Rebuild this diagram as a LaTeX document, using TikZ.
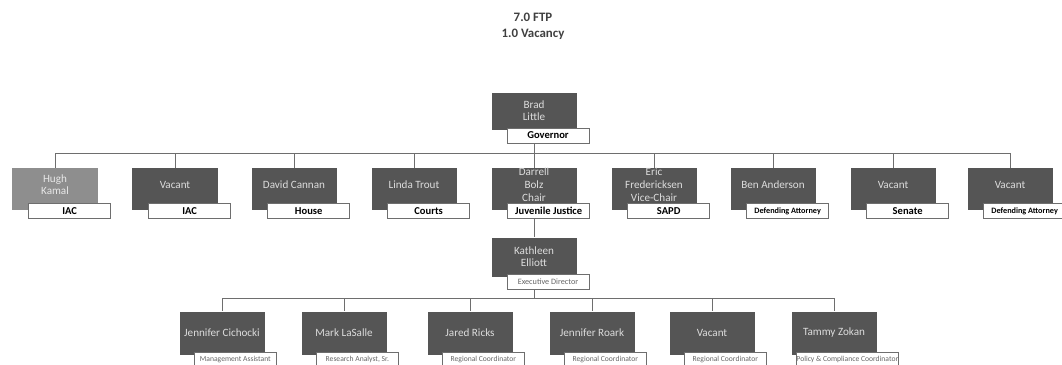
\documentclass[tikz,border=0pt]{standalone}
\usepackage{fontspec}
\setmainfont{Carlito}
\usetikzlibrary{positioning}
\definecolor{boxgray}{HTML}{555555}
\definecolor{palegray}{HTML}{8E8E8E}
\definecolor{linegray}{HTML}{6E6E6E}
\definecolor{namegray}{HTML}{DDDDDD}

\tikzset{
  heading/.style={font=\bfseries\fontsize{11}{12}\selectfont, text=black!75, inner sep=1pt},
  member/.style={fill=boxgray, minimum width=2.55cm, minimum height=1.26cm, text=namegray,
    font=\fontsize{9.5}{10.5}\selectfont, align=center, inner sep=1pt},
  whotext/.style={text=namegray, font=\fontsize{9.5}{11}\selectfont, align=center, inner sep=0pt},
  role/.style={fill=white, draw=linegray, minimum width=2.46cm, minimum height=0.45cm,
    font=\bfseries\fontsize{9}{10}\selectfont, inner sep=0pt},
  link/.style={draw=linegray, line width=0.7pt}
}

\begin{document}
\begin{tikzpicture}[x=0.03cm, y=-0.03cm]
  \useasboundingbox (0,0) rectangle (1062,365);

  % heading
  \node[heading] (ftp) at (533,17) {7.0 FTP};
  \node[heading, below=1.4mm of ftp] (vacancy) {1.0 Vacancy};

  % governor
  \node[member, minimum height=1.11cm] (gov) at (534,111) {Brad\\Little};
  \node[role, below=-0.06cm of gov, xshift=0.42cm] (govrole) {Governor};

  % commission members
  \coordinate (bus1) at (534,153);
  \node[member, fill=palegray] (m1) at (55,189) {};
  \node[whotext, text=white!80!palegray, yshift=0.13cm] (n1) at (m1) {Hugh\\Kamal};
  \node[role, below=-0.21cm of m1, xshift=0.44cm] (r1) {IAC};
  \foreach \i/\x/\who/\what in {
      2/175/Vacant/IAC,
      3/294/David Cannan/House,
      4/414/Linda Trout/Courts,
      5/534/{Darrell\\Bolz\\Chair}/Juvenile Justice,
      6/654/{Eric\\Fredericksen\\Vice-Chair}/SAPD,
      7/773/Ben Anderson/{\fontsize{7}{8}\selectfont Defending Attorney},
      8/893/Vacant/Senate,
      9/1010/Vacant/{\fontsize{7}{8}\selectfont Defending Attorney}} {
    \node[member] (m\i) at (\x,189) {};
    \node[whotext, yshift=0.13cm] (n\i) at (m\i) {\who};
    \node[role, below=-0.21cm of m\i, xshift=0.44cm] (r\i) {\what};
  }
  \draw[link] (gov |- govrole.south) -- (bus1);
  \foreach \i in {1,...,9}
    \draw[link] (bus1) -| (m\i.north);

  % executive director
  \node[member, minimum height=1.17cm] (ed) at (534,257) {Kathleen\\Elliott};
  \node[role, below=-0.09cm of ed, xshift=0.42cm, font=\fontsize{7}{8}\selectfont, text=black!60]
    (edrole) {Executive Director};
  \draw[link] (m5 |- r5.south) -- (ed);

  % staff
  \coordinate (bus2) at (534,298);
  \foreach \i/\x/\who/\what in {
      1/222/Jennifer Cichocki/Management Assistant,
      2/344/Mark LaSalle/Research Analyst{,} Sr.,
      3/470/Jared Ricks/Regional Coordinator,
      4/592/Jennifer Roark/Regional Coordinator,
      5/712/Vacant/Regional Coordinator,
      6/834/Tammy Zokan/Policy \& Compliance Coordinator} {
    \node[member, minimum height=1.29cm] (s\i) at (\x,333) {\who};
    \node[role, below=-0.09cm of s\i, xshift=0.4cm, font=\fontsize{6.5}{7}\selectfont, text=black!60]
      (t\i) {\what};
  }
  \draw[link] (ed |- edrole.south) -- (bus2);
  \foreach \i in {1,...,6}
    \draw[link] (bus2) -| (s\i.north);
\end{tikzpicture}
\end{document}
